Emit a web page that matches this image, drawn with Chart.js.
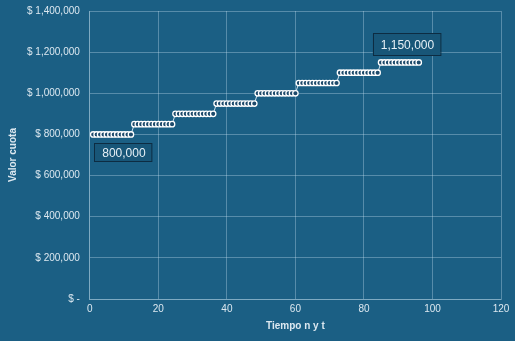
<!DOCTYPE html>
<html>
<head>
<meta charset="utf-8">
<script src="https://cdn.jsdelivr.net/npm/chart.js@4"></script>
<style>
  html, body { margin: 0; padding: 0; background: #1b5f84; overflow: hidden; }
  #wrap { width: 515px; height: 346px; margin-top: -5px; }
</style>
</head>
<body>
<div id="wrap"><canvas id="myChart"></canvas></div>
<script>
// periodo (meses)
let periodos = [
   1,  2,  3,  4,  5,  6,  7,  8,  9, 10, 11, 12,
  13, 14, 15, 16, 17, 18, 19, 20, 21, 22, 23, 24,
  25, 26, 27, 28, 29, 30, 31, 32, 33, 34, 35, 36,
  37, 38, 39, 40, 41, 42, 43, 44, 45, 46, 47, 48,
  49, 50, 51, 52, 53, 54, 55, 56, 57, 58, 59, 60,
  61, 62, 63, 64, 65, 66, 67, 68, 69, 70, 71, 72,
  73, 74, 75, 76, 77, 78, 79, 80, 81, 82, 83, 84,
  85, 86, 87, 88, 89, 90, 91, 92, 93, 94, 95, 96
];

// valor cuota de cada periodo
let cuotas = [
  800000, 800000, 800000, 800000, 800000, 800000, 800000, 800000, 800000, 800000, 800000, 800000,
  850000, 850000, 850000, 850000, 850000, 850000, 850000, 850000, 850000, 850000, 850000, 850000,
  900000, 900000, 900000, 900000, 900000, 900000, 900000, 900000, 900000, 900000, 900000, 900000,
  950000, 950000, 950000, 950000, 950000, 950000, 950000, 950000, 950000, 950000, 950000, 950000,
  1000000, 1000000, 1000000, 1000000, 1000000, 1000000, 1000000, 1000000, 1000000, 1000000, 1000000, 1000000,
  1050000, 1050000, 1050000, 1050000, 1050000, 1050000, 1050000, 1050000, 1050000, 1050000, 1050000, 1050000,
  1100000, 1100000, 1100000, 1100000, 1100000, 1100000, 1100000, 1100000, 1100000, 1100000, 1100000, 1100000,
  1150000, 1150000, 1150000, 1150000, 1150000, 1150000, 1150000, 1150000, 1150000, 1150000, 1150000, 1150000
];

// etiquetas: primera y ultima cuota
let etiquetas = [
  { idx: 0, texto: "800,000", abajo: true },
  { idx: 95, texto: "1,150,000", abajo: false }
];

let puntos = periodos.map((p, i) => ({ x: p, y: cuotas[i] }));

let txtColor = "#dce8f0";
let gridColor = "rgba(200,225,240,0.35)";

function formatoPesos(v) {
  if (v === 0) return "$ -";
  return "$ " + v.toLocaleString("en-US");
}

// cajas con el valor de la cuota
const cajas = {
  id: "cajas",
  afterDatasetsDraw(chart) {
    const ctx = chart.ctx;
    const xs = chart.scales.x, ys = chart.scales.y;
    ctx.save();
    ctx.font = "12px 'Liberation Sans', Arial, sans-serif";
    etiquetas.forEach(et => {
      const px = xs.getPixelForValue(periodos[et.idx]);
      const py = ys.getPixelForValue(cuotas[et.idx]);
      const w = ctx.measureText(et.texto).width + 14;
      let bx, by, h;
      if (et.abajo) {
        h = 18;
        bx = px + 1;
        by = py + 9;
      } else {
        h = 22;
        bx = px - 46;
        by = py - 29;
      }
      ctx.fillStyle = "#185678";
      ctx.fillRect(bx, by, w, h);
      ctx.strokeStyle = "#0d2c42";
      ctx.lineWidth = 1;
      ctx.strokeRect(Math.round(bx) + 0.5, Math.round(by) + 0.5, w, h);
      ctx.fillStyle = "#e6f0f6";
      ctx.textBaseline = "middle";
      ctx.textAlign = "center";
      ctx.fillText(et.texto, bx + w / 2 + 1, by + h / 2 + 1);
    });
    ctx.restore();
  }
};

Chart.defaults.font.family = "'Liberation Sans', Arial, sans-serif";

new Chart(document.getElementById("myChart"), {
  type: "scatter",
  data: {
    datasets: [{
      data: puntos,
      showLine: true,
      borderColor: "#cfe3ef",
      borderWidth: 1,
      pointRadius: 2.7,
      pointBorderWidth: 1.3,
      pointBorderColor: "#ffffff",
      pointBackgroundColor: "#1d4a6b"
    }]
  },
  options: {
    responsive: true,
    maintainAspectRatio: false,
    animation: false,
    layout: { padding: { left: 3, right: 14, top: 0, bottom: 9 } },
    plugins: { legend: { display: false }, tooltip: { enabled: false } },
    scales: {
      x: {
        min: 0, max: 120,
        ticks: { stepSize: 20, color: txtColor, font: { size: 10 }, padding: 4 },
        grid: { color: gridColor, drawTicks: false },
        border: { color: gridColor },
        title: { display: true, text: "Tiempo n y t", color: txtColor, font: { size: 10, weight: "bold" }, padding: { top: 1, bottom: 0 } }
      },
      y: {
        min: 0, max: 1400000,
        ticks: { stepSize: 200000, color: txtColor, font: { size: 10 }, padding: 10, callback: v => formatoPesos(v) },
        grid: { color: gridColor, drawTicks: false },
        border: { color: gridColor },
        title: { display: true, text: "Valor cuota", color: txtColor, font: { size: 10, weight: "bold" }, padding: { bottom: -2 } }
      }
    }
  },
  plugins: [cajas]
});
</script>
</body>
</html>
